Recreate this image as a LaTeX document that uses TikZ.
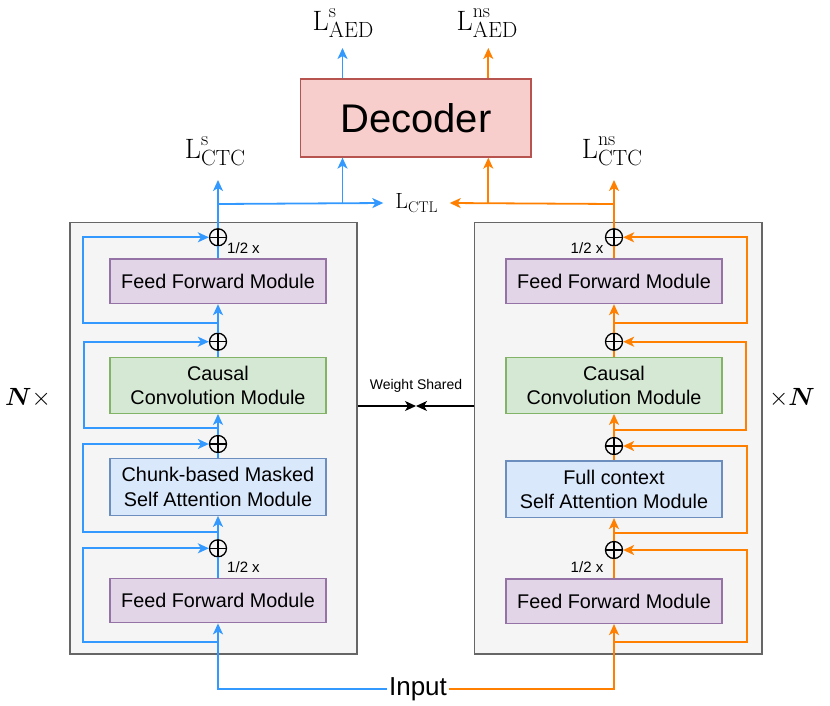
\documentclass[tikz,border=0pt]{standalone}
\usepackage{bm}
\usepackage{fontspec}
\newfontfamily\arial{Liberation Sans}
\usetikzlibrary{arrows.meta}
\definecolor{cblue}{HTML}{3399FF}
\definecolor{corange}{HTML}{FF8000}
\definecolor{outfill}{HTML}{F5F5F5}
\definecolor{outdraw}{HTML}{666666}
\definecolor{ffill}{HTML}{E1D5E7}
\definecolor{fdraw}{HTML}{9673A6}
\definecolor{gfill}{HTML}{D5E8D4}
\definecolor{gdraw}{HTML}{82B366}
\definecolor{bfill}{HTML}{DAE8FC}
\definecolor{bdraw}{HTML}{6C8EBF}
\definecolor{dfill}{HTML}{F8CECC}
\definecolor{ddraw}{HTML}{B85450}
\newcommand\LossLbl[2]{{\fontsize{28}{28}\selectfont L}\rlap{\raisebox{13pt}{\fontsize{20}{20}\selectfont #1}}\raisebox{-7.5pt}{\fontsize{22}{22}\selectfont #2}}
\tikzset{
  outerbox/.style={draw=outdraw,fill=outfill,line width=1.3pt,inner sep=0pt},
  modbox/.style={line width=1.3pt,inner sep=0pt,align=center,font=\arial\fontsize{19.8}{24.5}\selectfont,minimum width=216pt},
  ffbox/.style={modbox,draw=fdraw,fill=ffill,minimum height=44.5pt},
  convbox/.style={modbox,draw=gdraw,fill=gfill,minimum height=56pt},
  attbox/.style={modbox,draw=bdraw,fill=bfill,minimum height=56.5pt},
  sumc/.style={circle,draw=black,line width=1.3pt,minimum size=17pt,inner sep=0pt,
    path picture={\draw[line width=1.3pt] (path picture bounding box.north)--(path picture bounding box.south) (path picture bounding box.west)--(path picture bounding box.east);}},
  arr/.style={-{Stealth[length=11pt,width=10pt,inset=3pt]}},
  bl/.style={draw=cblue,line width=1.8pt},
  orl/.style={draw=corange,line width=1.8pt},
  half/.style={font=\arial\fontsize{15}{15}\selectfont,inner sep=0pt},
  loss/.style={inner sep=0pt,anchor=base},
}
\begin{document}
\begin{tikzpicture}[x=1pt,y=-1pt]
\useasboundingbox (0,0) rectangle (830,705);
% outer boxes
\node[outerbox,minimum width=287pt,minimum height=431.3pt] (outL) at (213.5,438.3) {};
\node[outerbox,minimum width=287.3pt,minimum height=431.3pt] (outR) at (618.4,438.3) {};
% decoder
\node[draw=ddraw,fill=dfill,line width=1.3pt,minimum width=230.3pt,minimum height=78pt,inner sep=0pt,font=\arial\fontsize{40}{40}\selectfont] (dec) at (415.9,118) {Decoder};
% left modules
\node[ffbox] (ffL1) at (218,281.3) {Feed Forward Module};
\node[convbox] (convL) at (218,385.3) {Causal\\Convolution Module};
\node[attbox] (attL) at (218,487) {Chunk-based Masked\\Self Attention Module};
\node[ffbox] (ffL2) at (218,600.5) {Feed Forward Module};
% right modules
\node[ffbox] (ffR1) at (614,281.3) {Feed Forward Module};
\node[convbox] (convR) at (614,385.3) {Causal\\Convolution Module};
\node[attbox] (attR) at (614,489.2) {Full context\\Self Attention Module};
\node[ffbox] (ffR2) at (614,601.2) {Feed Forward Module};
% sum circles
\node[sumc] (cL1) at (218,237.3) {};
\node[sumc] (cL2) at (218,341.7) {};
\node[sumc] (cL3) at (218,444) {};
\node[sumc] (cL4) at (218,548.3) {};
\node[sumc] (cR1) at (614,237.3) {};
\node[sumc] (cR2) at (614,341.7) {};
\node[sumc] (cR3) at (614,446) {};
\node[sumc] (cR4) at (614,550) {};
% half labels
\node[half] (hL1) at (243.5,248) {1/2 x};
\node[half] (hL2) at (243.5,566.7) {1/2 x};
\node[half] (hR1) at (587,248) {1/2 x};
\node[half] (hR2) at (587,567) {1/2 x};
% input
\node[font=\arial\fontsize{26}{26}\selectfont,inner sep=1.5pt] (inp) at (418,689) {Input};
% losses
\node[loss] (lsAED) at (343,30) {\LossLbl{s}{AED}};
\node[loss] (lnsAED) at (487,30) {\LossLbl{ns}{AED}};
\node[loss] (lsCTC) at (215,158.3) {\LossLbl{s}{CTC}};
\node[loss] (lnsCTC) at (612,158.3) {\LossLbl{ns}{CTC}};
\node[inner sep=0pt,minimum width=66pt] (ctl) at (416.5,203) {{\fontsize{22}{22}\selectfont L}\raisebox{-3.5pt}{\fontsize{15.5}{15.5}\selectfont CTL}};
% N x
\node[font=\fontsize{27}{27}\selectfont] (nl) at (28,398) {$\bm{N}\times$};
\node[font=\fontsize{27}{27}\selectfont] (nr) at (792,398) {$\times\bm{N}$};
% weight shared
\coordinate (ws) at (416,406);
\draw[arr,line width=1.3pt] (outL.east |- ws) -- (ws);
\draw[arr,line width=1.3pt] (outR.west |- ws) -- (ws);
\node[font=\arial\fontsize{14}{14}\selectfont] (wsl) at (416,386) {Weight Shared};
% left main path
\draw[bl,arr] (inp.west) -| (ffL2.south);
\draw[bl] (ffL2.north) -- (cL4.south);
\draw[bl,arr] (cL4.north) -- (attL.south);
\draw[bl] (attL.north) -- (cL3.south);
\draw[bl,arr] (cL3.north) -- (convL.south);
\draw[bl] (convL.north) -- (cL2.south);
\draw[bl,arr] (cL2.north) -- (ffL1.south);
\draw[bl] (ffL1.north) -- (cL1.south);
% left skips
\coordinate (sL4) at (218,641.7);
\coordinate (sL3) at (218,531.7);
\coordinate (sL2) at (218,427.7);
\coordinate (sL1) at (218,323.3);
\draw[bl,arr] (sL4) -- (83,641.7) |- (cL4.west);
\draw[bl,arr] (sL3) -- (83,531.7) |- (cL3.west);
\draw[bl,arr] (sL2) -- (84.3,427.7) |- (cL2.west);
\draw[bl,arr] (sL1) -- (83,323.3) |- (cL1.west);
% right main path
\draw[orl,arr] (inp.east) -| (ffR2.south);
\draw[orl] (ffR2.north) -- (cR4.south);
\draw[orl,arr] (cR4.north) -- (attR.south);
\draw[orl] (attR.north) -- (cR3.south);
\draw[orl,arr] (cR3.north) -- (convR.south);
\draw[orl] (convR.north) -- (cR2.south);
\draw[orl,arr] (cR2.north) -- (ffR1.south);
\draw[orl] (ffR1.north) -- (cR1.south);
% right skips
\coordinate (sR4) at (614,641.7);
\coordinate (sR3) at (614,533.3);
\coordinate (sR2) at (614,430);
\coordinate (sR1) at (614,323.3);
\draw[orl,arr] (sR4) -- (747,641.7) |- (cR4.east);
\draw[orl,arr] (sR3) -- (747,533.3) |- (cR3.east);
\draw[orl,arr] (sR2) -- (746,430) |- (cR2.east);
\draw[orl,arr] (sR1) -- (747,323.3) |- (cR1.east);
% top connections
\coordinate (tL) at (218,204);
\coordinate (tR) at (614,204);
\coordinate (dL) at (342.5,204);
\coordinate (dR) at (488.3,204);
\coordinate (aL) at (218,180);
\coordinate (aR) at (614,180);
\coordinate (uL) at (342.5,48);
\coordinate (uR) at (488.3,48);
\draw[bl] (cL1.north) -- (tL);
\draw[bl,arr] (tL) -- (ctl.west);
\draw[bl,arr] (tL) -- (aL);
\draw[bl,arr] (dL) -- (dec.south -| dL);
\draw[bl,arr] (dec.north -| dL) -- (uL);
\draw[orl] (cR1.north) -- (tR);
\draw[orl,arr] (tR) -- (ctl.east);
\draw[orl,arr] (tR) -- (aR);
\draw[orl,arr] (dR) -- (dec.south -| dR);
\draw[orl,arr] (dec.north -| dR) -- (uR);
\end{tikzpicture}
\end{document}
